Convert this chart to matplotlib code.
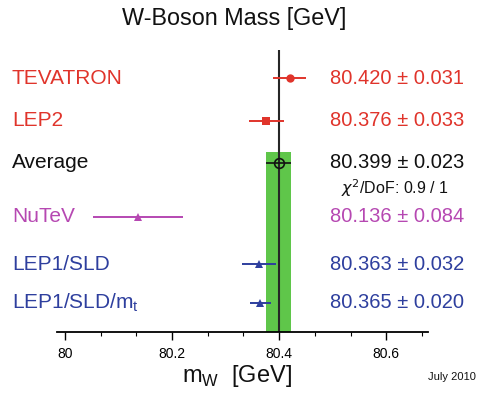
import matplotlib
matplotlib.use("Agg")
import matplotlib.pyplot as plt
from matplotlib.ticker import MultipleLocator

plt.rcParams['font.family'] = ['Liberation Sans', 'DejaVu Sans']

labels = ["TEVATRON", "LEP2", "Average", "NuTeV", "LEP1/SLD", "LEP1/SLD/m$_{\\mathregular{t}}$"]
values = [80.420, 80.376, 80.399, 80.136, 80.363, 80.365]
errors = [0.031, 0.033, 0.023, 0.084, 0.032, 0.020]
value_texts = ["80.420 \u00b1 0.031", "80.376 \u00b1 0.033", "80.399 \u00b1 0.023",
               "80.136 \u00b1 0.084", "80.363 \u00b1 0.032", "80.365 \u00b1 0.020"]
avg_value = 80.399
avg_error = 0.023
chi2_text = "$\\chi^{2}$/DoF: 0.9 / 1"
xticks = [80, 80.2, 80.4, 80.6]

colors = ["#e0342b", "#e0342b", "#111111", "#b648b2", "#2e3f9e", "#2e3f9e"]
markers = ["o", "s", "o", "^", "^", "^"]
msizes = [6, 6, 7, 5.5, 6, 6]
rows_y = [254, 211, 169, 115, 68, 29]

W, H = 482, 394
fig = plt.figure(figsize=(W / 100, H / 100), dpi=100)
ax = fig.add_axes([57 / W, (H - 332) / H, (428 - 57) / W, (332 - 50) / H])
ax.set_xlim(79.985, 80.678)
ax.set_ylim(0, 282)

# average band and line
ax.axvspan(avg_value - avg_error, avg_value + avg_error, ymin=0, ymax=180 / 282,
           color="#5fc64a", lw=0, zorder=1)
ax.axvline(avg_value, color="#262626", lw=1.5, zorder=2)

for lab, v, e, vt, c, m, ms, y in zip(labels, values, errors, value_texts, colors, markers, msizes, rows_y):
    if lab == "Average":
        ax.errorbar(v, y, xerr=e, fmt=m, color=c, mfc="none", mec=c, ms=ms, mew=1.2,
                    elinewidth=1.2, capsize=0, zorder=3)
    else:
        ax.errorbar(v, y, xerr=e, fmt=m, color=c, ms=ms, mew=0, elinewidth=1.4, capsize=0, zorder=3)
    ax.annotate(lab, xy=(12 / W, y), xycoords=("figure fraction", "data"),
                color=c, fontsize=15, ha="left", va="center")
    ax.annotate(vt, xy=(464 / W, y), xycoords=("figure fraction", "data"),
                color=c, fontsize=14.5, ha="right", va="center")

ax.annotate(chi2_text, xy=(395 / W, 144), xycoords=("figure fraction", "data"),
            color="#111111", fontsize=11.5, ha="center", va="center")

for s in ["top", "right", "left"]:
    ax.spines[s].set_visible(False)
ax.spines["bottom"].set_linewidth(1.3)
ax.set_yticks([])
ax.set_xticks(xticks)
ax.set_xticklabels(["80", "80.2", "80.4", "80.6"])
ax.xaxis.set_minor_locator(MultipleLocator(0.2 / 3))
ax.tick_params(axis="x", which="major", length=6, width=1, labelsize=10, pad=5, direction="out")
ax.tick_params(axis="x", which="minor", length=3, width=0.8, direction="out")

fig.text(234 / W, 1 - 18 / H, "W-Boson Mass [GeV]", fontsize=16.8, ha="center", va="center", color="#111111")
fig.text(237 / W, 1 - 376 / H, "m$_{\\mathregular{W}}$  [GeV]", fontsize=17, ha="center", va="center", color="#111111")
fig.text(476 / W, 1 - 377 / H, "July 2010", fontsize=8, ha="right", va="center", color="#111111")

fig.savefig("out.png", dpi=100)
